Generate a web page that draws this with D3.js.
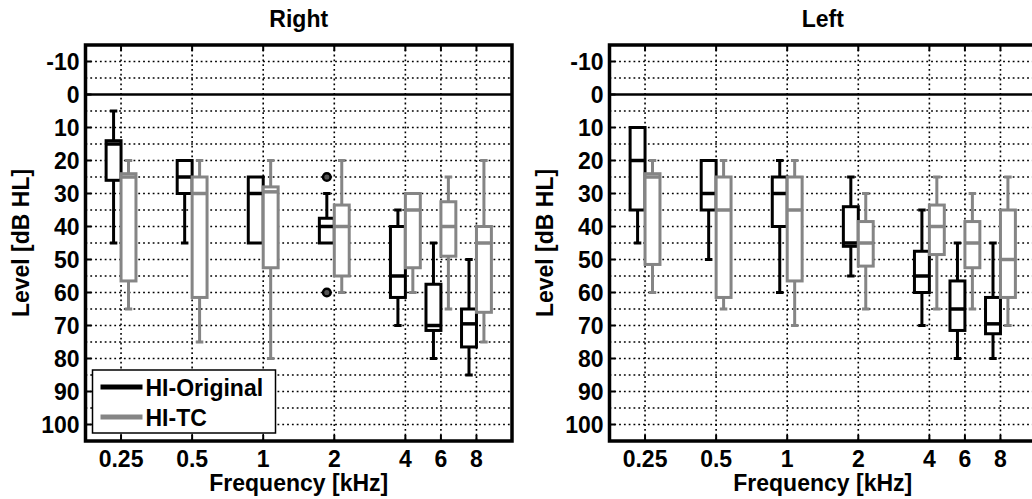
<!DOCTYPE html>
<html>
<head>
<meta charset="utf-8">
<script src="https://cdn.jsdelivr.net/npm/d3@7"></script>
<style>
  body { margin: 0; background: #fff; }
  svg { display: block; font-family: "Liberation Sans", Arial, sans-serif; font-weight: bold; }
  .grid { stroke: #000; stroke-width: 1.6; stroke-dasharray: 1.8,3; fill: none; }
</style>
</head>
<body>
<svg id="chart" width="1032" height="499"></svg>
<script>
// frequency labels and where they sit on the index axis (6 kHz sits between 4 and 8)
let freqLabels = ['0.25', '0.5', '1', '2', '4', '6', '8']
let freqPos = [1, 2, 3, 4, 5, 5.5, 6]
let levelTicks = [-10, 0, 10, 20, 30, 40, 50, 60, 70, 80, 90, 100]
let gridLevels = d3.range(-10, 101, 5)

// boxplot stats per frequency: [min, q1, median, q3, max]  (dB HL)
let rightOriginal = [
    [5, 14, 15, 26, 45],
    [20, 20, 25, 30, 45],
    [25, 25, 30, 45, 45],
    [30, 37.5, 40, 45, 45],
    [35, 40, 55, 61.5, 70],
    [45, 57.5, 70, 71.5, 80],
    [50, 65, 69.5, 76.5, 85]
]
let rightTC = [
    [20, 24, 25, 56.5, 65],
    [20, 25, 30, 61.5, 75],
    [20, 28, 29.5, 52.5, 80],
    [20, 33.5, 40, 55, 60],
    [30, 30, 35, 52.5, 60],
    [25, 32.5, 40, 49, 65],
    [20, 40, 45, 66, 75]
]
let rightOriginalOutliers = [['2', 25], ['2', 60]]

let leftOriginal = [
    [10, 10, 20, 35, 45],
    [20, 20, 30, 35, 50],
    [20, 25, 30, 40, 60],
    [25, 34, 45, 46, 55],
    [35, 47.5, 55, 60, 70],
    [45, 56.5, 65, 71.5, 80],
    [45, 61.5, 69.5, 72.5, 80]
]
let leftTC = [
    [20, 24, 25, 51.5, 60],
    [20, 25, 35, 61.5, 65],
    [20, 25, 35, 56.5, 70],
    [30, 38.5, 45, 52, 65],
    [25, 33.5, 40, 48.5, 65],
    [30, 38.5, 45, 52.5, 65],
    [25, 35, 50, 61.5, 70]
]
let leftOriginalOutliers = []

let seriesNames = ['HI-Original', 'HI-TC']
let colors = ['#000', '#858585']

let svg = d3.select('#chart')
let plotTop = 45, plotBottom = 441
let fontSize = 23

let panels = [
    { title: 'Right', x0: 85.5, x1: 512, orig: rightOriginal, tc: rightTC, outliers: rightOriginalOutliers, legend: true },
    { title: 'Left', x0: 609.5, x1: 1036, orig: leftOriginal, tc: leftTC, outliers: leftOriginalOutliers, legend: false }
]

panels.forEach(p => drawPanel(p))

function drawPanel(p) {
    let g = svg.append('g')
    let xScale = d3.scaleLinear().domain([0.5, 6.5]).range([p.x0, p.x1])
    let yScale = d3.scaleLinear().domain([-15, 105]).range([plotTop, plotBottom])
    let mid = (p.x0 + p.x1) / 2

    // dotted grid
    g.selectAll('.hgrid').data(gridLevels.filter(d => d !== 0)).join('line')
        .attr('class', 'grid')
        .attr('x1', p.x0).attr('x2', p.x1)
        .attr('y1', d => yScale(d)).attr('y2', d => yScale(d))
    g.selectAll('.vgrid').data(freqPos).join('line')
        .attr('class', 'grid')
        .attr('x1', d => xScale(d)).attr('x2', d => xScale(d))
        .attr('y1', plotTop).attr('y2', plotBottom)

    // 0 dB line
    g.append('line')
        .attr('x1', p.x0).attr('x2', p.x1)
        .attr('y1', yScale(0)).attr('y2', yScale(0))
        .attr('stroke', '#000').attr('stroke-width', 2.5)

    // boxes
    let bw = 0.21
    drawBoxes(g, p.orig, -bw / 2, colors[0], xScale, yScale, bw)
    drawBoxes(g, p.tc, bw / 2, colors[1], xScale, yScale, bw)

    g.selectAll('.outlier').data(p.outliers).join('circle')
        .attr('cx', d => xScale(freqPos[freqLabels.indexOf(d[0])] - bw / 2))
        .attr('cy', d => yScale(d[1]))
        .attr('r', 3.8)
        .attr('fill', '#555')
        .attr('stroke', '#000')
        .attr('stroke-width', 2.5)

    // frame
    g.append('rect')
        .attr('x', p.x0).attr('y', plotTop)
        .attr('width', p.x1 - p.x0).attr('height', plotBottom - plotTop)
        .attr('fill', 'none').attr('stroke', '#000').attr('stroke-width', 3.5)

    // inward ticks
    g.selectAll('.xt').data(freqPos).join('path')
        .attr('d', d => `M${xScale(d)},${plotTop}v6M${xScale(d)},${plotBottom}v-6`)
        .attr('stroke', '#000').attr('stroke-width', 2)
    g.selectAll('.yt').data(levelTicks).join('path')
        .attr('d', d => `M${p.x0},${yScale(d)}h6`)
        .attr('stroke', '#000').attr('stroke-width', 2)

    // tick labels
    g.selectAll('.ylab').data(levelTicks).join('text')
        .attr('x', p.x0 - 6)
        .attr('y', d => yScale(d))
        .attr('dy', '0.36em')
        .attr('text-anchor', 'end')
        .attr('font-size', fontSize)
        .text(d => d)
    g.selectAll('.xlab').data(freqPos).join('text')
        .attr('x', d => xScale(d))
        .attr('y', 467)
        .attr('text-anchor', 'middle')
        .attr('font-size', fontSize)
        .text((d, i) => freqLabels[i])

    // titles
    g.append('text').attr('x', mid).attr('y', 27)
        .attr('text-anchor', 'middle').attr('font-size', fontSize).text(p.title)
    g.append('text').attr('x', mid).attr('y', 491)
        .attr('text-anchor', 'middle').attr('font-size', fontSize).text('Frequency [kHz]')
    g.append('text')
        .attr('transform', `translate(${p.x0 - 57},${(plotTop + plotBottom) / 2}) rotate(-90)`)
        .attr('text-anchor', 'middle').attr('font-size', fontSize).text('Level [dB HL]')

    if (p.legend) drawLegend(g, p.x0)
}

function drawBoxes(g, stats, offset, color, xScale, yScale, bw) {
    let half = (xScale(bw) - xScale(0)) / 2
    let cap = half / 2
    let grp = g.append('g').attr('stroke', color).attr('stroke-width', 3).attr('fill', '#fff')
    stats.forEach((s, i) => {
        let cx = xScale(freqPos[i] + offset)
        let [mn, q1, med, q3, mx] = s
        if (mn < q1) {
            grp.append('line').attr('x1', cx).attr('x2', cx).attr('y1', yScale(mn)).attr('y2', yScale(q1))
            grp.append('line').attr('x1', cx - cap).attr('x2', cx + cap).attr('y1', yScale(mn)).attr('y2', yScale(mn))
        }
        if (mx > q3) {
            grp.append('line').attr('x1', cx).attr('x2', cx).attr('y1', yScale(q3)).attr('y2', yScale(mx))
            grp.append('line').attr('x1', cx - cap).attr('x2', cx + cap).attr('y1', yScale(mx)).attr('y2', yScale(mx))
        }
        grp.append('rect')
            .attr('x', cx - half).attr('y', yScale(q1))
            .attr('width', half * 2).attr('height', yScale(q3) - yScale(q1))
        grp.append('line')
            .attr('x1', cx - half).attr('x2', cx + half)
            .attr('y1', yScale(med)).attr('y2', yScale(med))
            .attr('stroke-width', 3.5)
    })
}

function drawLegend(g, x0) {
    let lg = g.append('g').attr('transform', `translate(${x0 + 7},370)`)
    lg.append('rect').attr('width', 183).attr('height', 63)
        .attr('fill', '#fff').attr('stroke', '#000').attr('stroke-width', 1.5)
    seriesNames.forEach((name, i) => {
        let yy = 17 + i * 30
        lg.append('line').attr('x1', 8).attr('x2', 50).attr('y1', yy).attr('y2', yy)
            .attr('stroke', colors[i]).attr('stroke-width', 5)
        lg.append('text').attr('x', 53).attr('y', yy + 9).attr('font-size', fontSize).text(name)
    })
}
</script>
</body>
</html>
